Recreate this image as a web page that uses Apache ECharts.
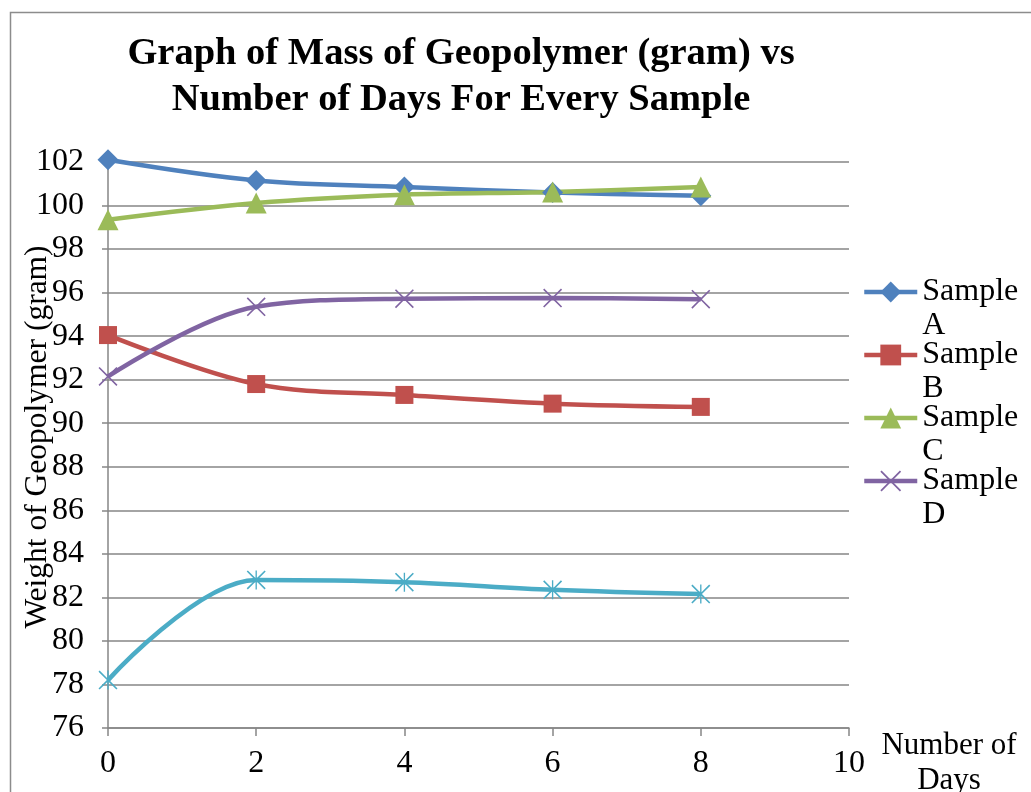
<!DOCTYPE html>
<html>
<head>
<meta charset="utf-8">
<script src="https://cdn.jsdelivr.net/npm/echarts@6/dist/echarts.min.js"></script>
<style>
  html, body { margin: 0; padding: 0; background: #fff; }
  #chart { width: 1031px; height: 792px; }
</style>
</head>
<body>
<div id="chart"></div>
<script>
// days of measurement
const days = [0, 2, 4, 6, 8];

// weight of geopolymer (gram)
const sampleA = [102.1, 101.15, 100.85, 100.6, 100.45];
const sampleB = [94.05, 91.8, 91.3, 90.9, 90.75];
const sampleC = [99.35, 100.12, 100.5, 100.62, 100.85];
const sampleD = [92.15, 95.35, 95.72, 95.75, 95.7];
const sampleE = [78.2, 82.8, 82.7, 82.35, 82.15];

const legendNames = ["Sample A", "Sample B", "Sample C", "Sample D"];

const serif = "Liberation Serif";

const xMark = "path://M0,1.2L1.2,0L10,8.8L18.8,0L20,1.2L11.2,10L20,18.8L18.8,20L10,11.2L1.2,20L0,18.8L8.8,10Z";
const starMark = xMark + "M9.3,0L10.7,0L10.7,20L9.3,20Z";

function pairs(vals) {
  return vals.map((v, i) => [days[i], v]);
}

function makeSeries(name, vals, color, symbol, size) {
  return {
    name: name,
    type: "line",
    data: pairs(vals),
    smooth: 0.35,
    clip: false,
    symbol: symbol,
    symbolSize: size,
    lineStyle: { color: color, width: 4.5 },
    itemStyle: { color: color },
    emphasis: { disabled: true },
  };
}

const chart = echarts.init(document.getElementById("chart"));

const option = {
  animation: false,
  backgroundColor: "#fff",
  graphic: [
    {
      type: "rect",
      shape: { x: 10.5, y: 12.5, width: 1040, height: 800 },
      style: { fill: "none", stroke: "#8c8c8c", lineWidth: 1.5 },
      silent: true,
    },
  ],
  title: {
    text: "Graph of Mass of Geopolymer (gram) vs\nNumber of Days For Every Sample",
    left: 456,
    top: 26,
    textAlign: "center",
    textStyle: {
      fontFamily: serif,
      fontWeight: "bold",
      fontSize: 38.5,
      lineHeight: 46,
      color: "#000",
    },
  },
  legend: {
    data: legendNames,
    orient: "vertical",
    left: 857,
    top: 236,
    itemWidth: 53,
    itemHeight: 26,
    itemGap: -39,
    // blank first line keeps the icon level with "Sample"
    formatter: (name) => "\n" + name.replace(" ", "\n"),
    lineStyle: { width: 4.5 },
    textStyle: {
      fontFamily: serif,
      fontSize: 32,
      lineHeight: 34,
      color: "#000",
    },
    selectedMode: false,
  },
  grid: { left: 108, right: 182, top: 162, bottom: 64, outerBoundsMode: "none" },
  xAxis: {
    type: "value",
    min: 0,
    max: 10,
    interval: 2,
    name: "Number of\nDays",
    nameLocation: "end",
    nameGap: 100,
    nameMoveOverlap: false,
    nameTextStyle: {
      fontFamily: serif,
      fontSize: 31,
      lineHeight: 35,
      color: "#000",
      align: "center",
      verticalAlign: "top",
    },
    axisLine: { show: true, onZero: false, lineStyle: { color: "#868686", width: 1.5 } },
    axisTick: { show: true, length: 8, lineStyle: { color: "#868686", width: 1.5 } },
    axisLabel: { fontFamily: serif, fontSize: 32, color: "#000", margin: 20 },
    splitLine: { show: false },
  },
  yAxis: {
    type: "value",
    min: 76,
    max: 102,
    interval: 2,
    name: "Weight of Geopolymer (gram)",
    nameLocation: "middle",
    nameGap: 54,
    nameMoveOverlap: false,
    nameTextStyle: { fontFamily: serif, fontSize: 31.5, color: "#000", padding: [0, 0, 0, 16] },
    axisLine: { show: true, lineStyle: { color: "#868686", width: 1.5 } },
    axisTick: { show: true, length: 6, lineStyle: { color: "#868686", width: 1.5 } },
    axisLabel: { fontFamily: serif, fontSize: 32, color: "#000", margin: 24 },
    splitLine: { show: true, lineStyle: { color: "#868686", width: 1.5 } },
  },
  series: [
    makeSeries("Sample A", sampleA, "#4F81BD", "diamond", 21),
    makeSeries("Sample B", sampleB, "#C0504D", "rect", 18),
    makeSeries("Sample C", sampleC, "#9BBB59", "triangle", 21),
    makeSeries("Sample D", sampleD, "#8064A2", xMark, 19),
    makeSeries("Sample E", sampleE, "#4BACC6", starMark, 19),
  ],
};

chart.setOption(option);
</script>
</body>
</html>
